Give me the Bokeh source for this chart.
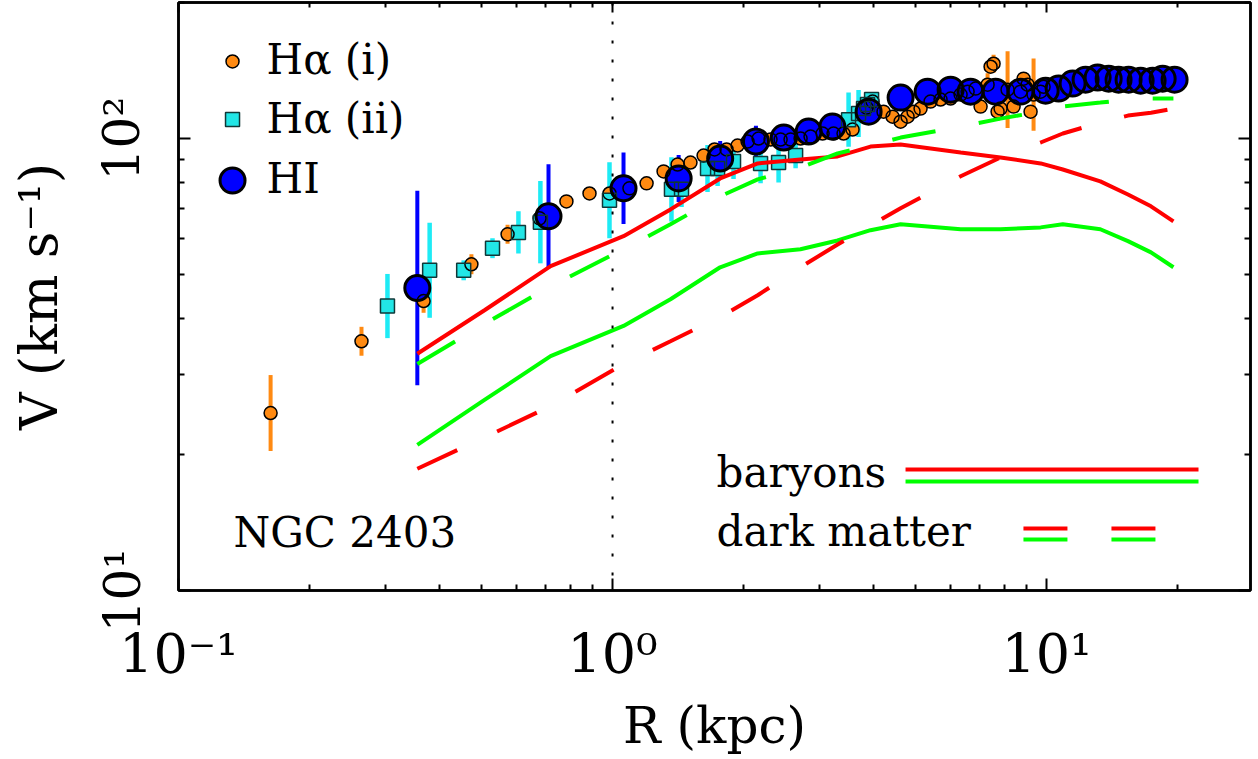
import math
from bokeh.plotting import figure
from bokeh.models import LogAxis, FixedTicker, Span, Range1d, CustomJSTickFormatter
from bokeh.core.properties import value
from bokeh.embed import file_html
from bokeh.resources import INLINE

# ---------------- data ----------------
# H-alpha (i): radius (kpc), velocity (km/s), error half-length (dex)
R_HA1 = [0.163, 0.264, 0.367, 0.473, 0.573, 0.679, 0.783, 0.885, 0.984, 1.094,
         1.198, 1.311, 1.412, 1.512, 1.621, 1.718, 1.831, 1.941, 2.047, 2.170,
         2.312, 2.439, 2.571, 2.712, 2.859, 3.047, 3.230, 3.406, 3.573, 3.848,
         3.973, 4.211, 4.418, 4.609, 4.783, 4.937, 5.125, 5.403, 5.698, 6.009,
         6.337, 6.577, 6.862, 7.046, 7.313, 7.430, 7.549, 7.711, 7.834, 8.131,
         8.395, 8.712, 8.851, 9.041, 9.186, 9.333, 9.687, 9.842]
V_HA1 = [24.7, 35.6, 43.7, 52.7, 61.4, 66.6, 72.6, 75.6, 75.6, 77.6,
         79.6, 84.6, 87.6, 88.5, 91.7, 94.6, 94.6, 96.5, 98.5, 100.0,
         99.5, 99.5, 99.5, 100.0, 101.0, 102.6, 102.6, 102.6, 104.7, 117.1,
         120.7, 114.7, 111.8, 109.0, 111.8, 114.7, 116.5, 120.7, 122.0, 122.6,
         125.1, 127.0, 129.0, 117.7, 131.6, 144.2, 146.4, 114.7, 116.5, 128.3,
         117.7, 127.0, 135.7, 131.6, 114.7, 125.1, 127.0, 130.2]
E_HA1 = [0.084, 0.032, 0.026, 0.022, 0.021, 0.017, 0.011, 0.008, 0.008, 0.008,
         0.008, 0.008, 0.008, 0.008, 0.008, 0.008, 0.008, 0.008, 0.008, 0.008,
         0.008, 0.008, 0.008, 0.008, 0.008, 0.008, 0.008, 0.008, 0.008, 0.008,
         0.008, 0.008, 0.008, 0.008, 0.008, 0.008, 0.008, 0.008, 0.008, 0.008,
         0.008, 0.008, 0.008, 0.008, 0.025, 0.008, 0.020, 0.020, 0.008, 0.085,
         0.008, 0.008, 0.008, 0.008, 0.008, 0.080, 0.008, 0.008]

# H-alpha (ii)
R_HA2 = [0.303, 0.379, 0.454, 0.529, 0.607, 0.682, 0.984, 1.367, 1.442, 1.655,
         1.746, 1.900, 2.193, 2.413, 2.641, 3.498, 3.688, 3.787, 3.868, 3.952]
V_HA2 = [42.6, 51.1, 51.1, 57.2, 62.0, 65.3, 73.0, 77.2, 77.2, 85.9,
         85.9, 89.0, 88.1, 88.5, 91.7, 110.1, 113.6, 116.5, 118.9, 122.0]
E_HA2 = [0.071, 0.105, 0.022, 0.022, 0.047, 0.091, 0.084, 0.071, 0.039, 0.052,
         0.039, 0.039, 0.044, 0.044, 0.028, 0.060, 0.052, 0.010, 0.010, 0.010]

# HI
R_HI = [0.355, 0.712, 1.06, 1.42, 1.77, 2.14, 2.48, 2.83, 3.21, 3.89,
        4.61, 5.32, 6.01, 6.68, 7.63, 8.71, 9.95, 10.66, 11.48, 12.30,
        13.11, 13.90, 14.65, 15.45, 16.47, 17.55, 18.51, 19.72]
V_HI = [46.7, 67.3, 77.6, 81.6, 90.3, 98.5, 100.5, 103.6, 106.3, 114.7,
        123.2, 127.0, 128.3, 127.0, 127.0, 127.0, 127.6, 129.0, 132.3, 135.0,
        136.4, 135.7, 135.0, 135.0, 134.3, 134.3, 135.7, 135.0]
E_HI = [0.215, 0.115, 0.079, 0.052, 0.039, 0.035, 0.020, 0.012, 0.012, 0.012,
        0.012, 0.012, 0.012, 0.012, 0.012, 0.012, 0.012, 0.012, 0.012, 0.012,
        0.012, 0.012, 0.012, 0.012, 0.012, 0.012, 0.012, 0.028]

# mass models
R_MODEL = [0.355, 0.507, 0.720, 1.06, 1.36, 1.77, 2.16, 2.71, 3.30, 3.93,
           4.61, 6.34, 7.83, 9.69, 10.9, 13.3, 15.4, 17.4, 19.6]
V_BARYON_RED = [33.4, 41.7, 52.2, 60.8, 69.7, 81.6, 88.1, 89.9, 91.3, 96.0,
                97.0, 93.1, 90.8, 88.1, 85.4, 80.4, 75.2, 70.8, 65.6]
V_BARYON_GREEN = [21.0, 26.4, 33.0, 38.5, 44.1, 51.9, 55.7, 56.9, 59.5, 62.7,
                  64.6, 63.0, 63.0, 63.6, 64.6, 63.0, 59.3, 56.0, 51.9]
V_DM_RED = [18.6, 21.8, 25.6, 31.7, 35.6, 40.3, 45.0, 51.9, 58.3, 64.3,
            70.1, 82.5, 90.8, 98.0, 102.6, 108.5, 112.4, 114.1, 116.5]
V_DM_GREEN = [31.7, 38.9, 47.1, 56.9, 64.6, 74.5, 81.2, 86.3, 92.7, 96.5,
              100.5, 106.3, 110.7, 114.7, 117.7, 120.1, 122.0, 122.6, 122.6]

REF_R = 1.0
X_MAJOR = [0.1, 1, 10]
X_MINOR = [0.2, 0.3, 0.4, 0.5, 0.6, 0.7, 0.8, 0.9, 2, 3, 4, 5, 6, 7, 8, 9, 20]
Y_MAJOR = [10, 100]
Y_MINOR = [20, 30, 40, 50, 60, 70, 80, 90, 200]
POINT_LABELS = ["H\u03b1  (i)", "H\u03b1  (ii)", "HI"]
LINE_LABELS = ["baryons", "dark matter"]
GALAXY = "NGC 2403"
X_LABEL = "R (kpc)"
Y_LABEL = "V (km s\u207b\u00b9)"

X_RANGE = (0.1, 29.5)
Y_RANGE = (10.0, 200.0)

# ---------------- styling ----------------
FONT = "DejaVu Serif"
ORANGE = "#FF8A12"
CYAN = "#22E6E6"
CYAN_BAR = "#1EEBF5"
BLUE = "#0000FF"
RED = "#FF0000"
GREEN = "#00FF00"
TEXT_SHIFT = 0.0255   # alphabetic baseline correction (fraction of frame height)


def fx(f):
    a, b = math.log10(X_RANGE[0]), math.log10(X_RANGE[1])
    return 10 ** (a + f * (b - a))


def fy(f):
    a, b = math.log10(Y_RANGE[0]), math.log10(Y_RANGE[1])
    return 10 ** (a + f * (b - a))


def bounds(v, e):
    return [vi * 10 ** (-ei) for vi, ei in zip(v, e)], [vi * 10 ** ei for vi, ei in zip(v, e)]


p = figure(width=1258, height=759, x_axis_type="log", y_axis_type="log",
           x_range=Range1d(*X_RANGE), y_range=Range1d(*Y_RANGE),
           output_backend="svg", toolbar_location=None,
           min_border_left=178, min_border_right=8, min_border_top=2,
           min_border_bottom=169)
p.grid.visible = False
p.outline_line_color = "black"
p.outline_line_width = 2.5
p.background_fill_color = "white"
p.border_fill_color = "white"

fmt = CustomJSTickFormatter(code="""
const e = Math.round(Math.log10(tick));
const sup = {"-1": "\\u207b\\u00b9", "0": "\\u2070", "1": "\\u00b9", "2": "\\u00b2"};
const s = sup[String(e)];
return s === undefined ? "" : "10" + s;
""")


def style_axis(ax, ticks, minor, show_labels):
    ax.ticker = FixedTicker(ticks=ticks, minor_ticks=minor)
    ax.axis_line_width = 2.5
    ax.axis_line_color = "black"
    ax.major_tick_in = 12
    ax.major_tick_out = 0
    ax.minor_tick_in = 6
    ax.minor_tick_out = 0
    ax.major_tick_line_width = 2
    ax.minor_tick_line_width = 2
    ax.major_tick_line_color = "black"
    ax.minor_tick_line_color = "black"
    if show_labels:
        ax.formatter = fmt
        ax.major_label_text_font = FONT
        ax.major_label_text_font_size = "50px"
        ax.major_label_text_color = "black"
        ax.axis_label_text_font = FONT
        ax.axis_label_text_font_size = "50px"
        ax.axis_label_text_font_style = "normal"
        ax.axis_label_text_color = "black"
    else:
        ax.major_label_text_font_size = "1px"
        ax.major_label_text_alpha = 0
        ax.major_label_standoff = 0


xb = p.below[0]
style_axis(xb, X_MAJOR, X_MINOR, True)
xb.axis_label = X_LABEL
xb.major_label_text_font_size = "54px"
xb.major_label_standoff = 32
xb.axis_label_standoff = 8

yl = p.left[0]
style_axis(yl, Y_MAJOR, Y_MINOR, True)
yl.axis_label = Y_LABEL
yl.axis_label_text_font_size = "52px"
yl.major_label_orientation = "vertical"
yl.major_label_standoff = 27
yl.axis_label_standoff = 22

xt = LogAxis()
style_axis(xt, X_MAJOR, X_MINOR, False)
xt.major_tick_in = 10
xt.minor_tick_in = 5
p.add_layout(xt, "above")
yr = LogAxis()
style_axis(yr, Y_MAJOR, Y_MINOR, False)
p.add_layout(yr, "right")

# reference line at R = 1 kpc
p.add_layout(Span(location=REF_R, dimension="height", line_color="black",
                  line_width=2, line_dash="3 16"))

# error bars
lo, hi = bounds(V_HA1, E_HA1)
p.segment(x0=R_HA1, y0=lo, x1=R_HA1, y1=hi, line_color=ORANGE, line_width=4)
lo, hi = bounds(V_HA2, E_HA2)
p.segment(x0=R_HA2, y0=lo, x1=R_HA2, y1=hi, line_color=CYAN_BAR, line_width=4.5)
lo, hi = bounds(V_HI, E_HI)
p.segment(x0=R_HI, y0=lo, x1=R_HI, y1=hi, line_color=BLUE, line_width=4)

# fills, then outlines
p.scatter(R_HA1, V_HA1, marker="circle", size=13, fill_color=ORANGE, line_color=None)
p.scatter(R_HA2, V_HA2, marker="square", size=14, fill_color=CYAN, line_color=None)
p.scatter(R_HI, V_HI, marker="circle", size=25, fill_color=BLUE, line_color=None)
p.scatter(R_HA1, V_HA1, marker="circle", size=13, fill_color=None, line_color="black", line_width=1.5)
p.scatter(R_HA2, V_HA2, marker="square", size=14, fill_color=None, line_color="#103838", line_width=1.5)
p.scatter(R_HI, V_HI, marker="circle", size=25, fill_color=None, line_color="black", line_width=3)

# models
p.line(R_MODEL, V_BARYON_RED, line_color=RED, line_width=4)
p.line(R_MODEL, V_BARYON_GREEN, line_color=GREEN, line_width=4)
p.line(R_MODEL, V_DM_RED, line_color=RED, line_width=4, line_dash="44 44")
p.line(R_MODEL, V_DM_GREEN, line_color=GREEN, line_width=4, line_dash="44 44")

# legend (top left)
lx = fx(0.0504)
ly = [fy(0.8997), fy(0.801), fy(0.6973)]
p.scatter([lx], [ly[0]], marker="circle", size=13, fill_color=ORANGE, line_color="black", line_width=1.5)
p.scatter([lx], [ly[1]], marker="square", size=14, fill_color=CYAN, line_color="#103838", line_width=1.5)
p.scatter([lx], [ly[2]], marker="circle", size=25, fill_color=BLUE, line_color="black", line_width=3)
p.text(x=[fx(0.0821)] * 3,
       y=[fy(0.8776 + TEXT_SHIFT), fy(0.7772 + TEXT_SHIFT), fy(0.6752 + TEXT_SHIFT)],
       text=POINT_LABELS,
       text_font=value(FONT), text_font_size=value("42px"), text_color="black",
       text_align="left", text_baseline="alphabetic")

# legend (bottom right)
p.text(x=[fx(0.5019)] * 2, y=[fy(0.1752 + TEXT_SHIFT), fy(0.0748 + TEXT_SHIFT)], text=LINE_LABELS,
       text_font=value(FONT), text_font_size=value("42px"), text_color="black",
       text_align="left", text_baseline="alphabetic")
p.line([fx(0.6782), fx(0.9515)], [fy(0.2058)] * 2, line_color=RED, line_width=4)
p.line([fx(0.6782), fx(0.9515)], [fy(0.1854)] * 2, line_color=GREEN, line_width=4)
p.line([fx(0.7882), fx(0.9151)], [fy(0.1054)] * 2, line_color=RED, line_width=4, line_dash="44 44")
p.line([fx(0.7882), fx(0.9151)], [fy(0.0867)] * 2, line_color=GREEN, line_width=4, line_dash="44 44")

# galaxy name
p.text(x=[fx(0.0513)], y=[fy(0.0731 + TEXT_SHIFT)], text=[GALAXY],
       text_font=value(FONT), text_font_size=value("42px"), text_color="black",
       text_align="left", text_baseline="alphabetic")

open("out.html", "w", encoding="utf-8").write(file_html(p, INLINE))
